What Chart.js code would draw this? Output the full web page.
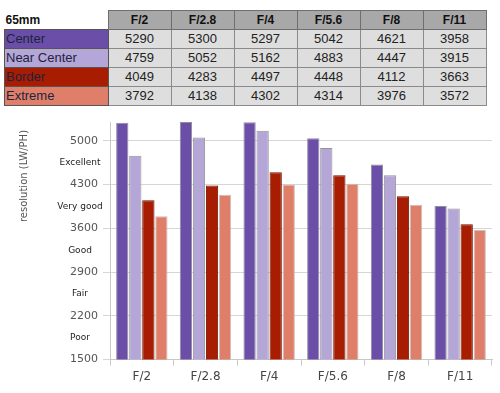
<!DOCTYPE html>
<html>
<head>
<meta charset="utf-8">
<script src="https://cdn.jsdelivr.net/npm/chart.js@4"></script>
<style>
  body { margin: 0; background: #fff; width: 500px; height: 393px; overflow: hidden; position: relative; font-family: "Liberation Sans", Arial, sans-serif; }
  #tbl { position: absolute; left: 4px; top: 10px; border-collapse: collapse; font-size: 13px; }
  #tbl td, #tbl th { padding: 0; height: 18px; line-height: 18px; }
  #tbl th { background: #a8a8a8; border: 1px solid #6e6e6e; font-weight: bold; font-size: 12px; color: #111; width: 62px; text-align: center; }
  #tbl th.corner { background: #fff; border: none; border-right: 1px solid #6e6e6e; text-align: left; width: 102px; font-size: 12px; padding-left: 1px; }
  #tbl td { background: #dedede; border: 1px solid #8a8a8a; text-align: center; color: #222; }
  #tbl td.lab { text-align: left; color: #1c2440; padding-left: 1px; border: 1px solid #555; }
  #wrap { position: absolute; left: 0; top: 110px; width: 500px; height: 283px; }
</style>
</head>
<body>
<table id="tbl"></table>
<div id="wrap"><canvas id="chart" width="500" height="283"></canvas></div>
<script>
const lensLabel = "65mm";
const apertures = ["F/2", "F/2.8", "F/4", "F/5.6", "F/8", "F/11"];
const seriesNames = ["Center", "Near Center", "Border", "Extreme"];
const center = [5290, 5300, 5297, 5042, 4621, 3958];
const nearCenter = [4759, 5052, 5162, 4883, 4447, 3915];
const border = [4049, 4283, 4497, 4448, 4112, 3663];
const extreme = [3792, 4138, 4302, 4314, 3976, 3572];
const yTicks = [1500, 2200, 2900, 3600, 4300, 5000];
const ratings = ["Poor", "Fair", "Good", "Very good", "Excellent"];
const yTitle = "resolution (LW/PH)";

const colors = ["#6a4ea8", "#b4a6d6", "#a81c02", "#e07f69"];
const borders = ["#8f8f9c", "#949494", "#6e1200", "#c7c0bc"];
const allSeries = [center, nearCenter, border, extreme];

// table
const tbl = document.getElementById("tbl");
let html = "<tr><th class='corner'>" + lensLabel + "</th>";
apertures.forEach(a => html += "<th>" + a + "</th>");
html += "</tr>";
seriesNames.forEach((name, i) => {
    html += "<tr><td class='lab' style='background:" + colors[i] + "'>" + name + "</td>";
    allSeries[i].forEach(v => html += "<td>" + v + "</td>");
    html += "</tr>";
});
tbl.innerHTML = html;

// rating labels between y ticks + axis title
const ratingPlugin = {
    id: "ratings",
    afterDraw(chart) {
        const ctx = chart.ctx;
        const y = chart.scales.y;
        ctx.save();
        ctx.font = "9px 'DejaVu Sans', sans-serif";
        ctx.fillStyle = "#222";
        ctx.textAlign = "center";
        ctx.textBaseline = "middle";
        ratings.forEach((r, i) => {
            const mid = (yTicks[i] + yTicks[i + 1]) / 2;
            ctx.fillText(r, 80, y.getPixelForValue(mid));
        });
        // title
        ctx.translate(24, 66);
        ctx.rotate(-Math.PI / 2);
        ctx.font = "10px 'DejaVu Sans', sans-serif";
        ctx.fillStyle = "#555";
        ctx.fillText(yTitle, 0, 0);
        ctx.restore();
    }
};

new Chart(document.getElementById("chart"), {
    type: "bar",
    data: {
        labels: apertures,
        datasets: seriesNames.map((name, i) => ({
            label: name,
            data: allSeries[i],
            backgroundColor: colors[i],
            borderColor: borders[i],
            borderWidth: 1,
            categoryPercentage: 0.82,
            barPercentage: 0.94
        }))
    },
    options: {
        responsive: false,
        animation: false,
        devicePixelRatio: 1,
        layout: { padding: { top: 12, right: 8, bottom: 5, left: 0 } },
        plugins: { legend: { display: false }, tooltip: { enabled: false } },
        scales: {
            x: {
                grid: { drawOnChartArea: false, drawTicks: true, tickLength: 6, color: "#c8c8c8" },
                border: { color: "#c8c8c8" },
                ticks: { color: "#444", font: { size: 12, family: "'DejaVu Sans', sans-serif" }, padding: 4, maxRotation: 0 }
            },
            y: {
                min: 1500,
                max: 5300,
                afterBuildTicks: s => { s.ticks = yTicks.map(v => ({ value: v })); },
                afterFit: s => { s.width = 110; },
                grid: { color: "#d6d6d6", tickLength: 7 },
                border: { color: "#c8c8c8" },
                ticks: { color: "#555", font: { size: 11, family: "'DejaVu Sans', sans-serif" }, padding: 5, callback: v => String(v) }
            }
        }
    },
    plugins: [ratingPlugin]
});
</script>
</body>
</html>
